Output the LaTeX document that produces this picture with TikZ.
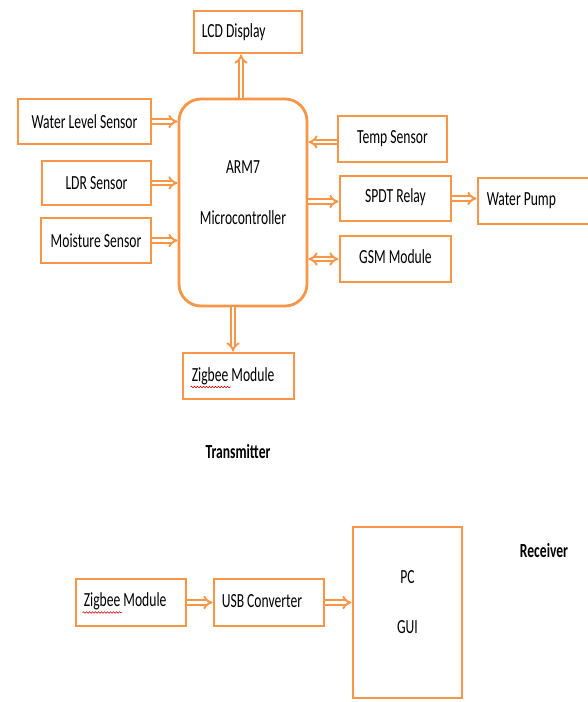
\documentclass[tikz,border=0pt]{standalone}
\usepackage{fontspec}
\setmainfont{Carlito}
\usetikzlibrary{arrows.meta,decorations.pathmorphing}
\definecolor{org}{HTML}{F79646}
\newcommand\tx[1]{\scalebox{0.68}[1]{#1}}
\tikzset{
  box/.style={draw=org, line width=2.8pt, fill=white, inner sep=0pt},
  rbox/.style={box, rounded corners=22pt},
  txt/.style={inner sep=0pt, font=\fontsize{20}{22}\selectfont, text=black},
  arr/.style={draw=org, double=white, line width=1.9pt, double distance=2.4pt, -{Implies[scale=1.35]}},
  darr/.style={draw=org, double=white, line width=1.9pt, double distance=2.4pt, {Implies[scale=1.35]}-{Implies[scale=1.35]}},
  wavy/.style={draw=red!85!black, line width=0.6pt, decorate, decoration={snake, segment length=3pt, amplitude=0.8pt}}
}
\begin{document}
\begin{tikzpicture}[x=1pt,y=-1pt]
\useasboundingbox[fill=white] (0,0) rectangle (588,702);
% boxes
\node[box, minimum width=108pt, minimum height=42pt] (lcd) at (248,32) {};
\node[box, minimum width=133pt, minimum height=45pt] (wls) at (84.5,121.5) {};
\node[box, minimum width=109pt, minimum height=44pt] (ldr) at (96.5,183) {};
\node[box, minimum width=110pt, minimum height=45pt] (moist) at (96,240.5) {};
\node[rbox, minimum width=128pt, minimum height=207pt] (mcu) at (243,202.5) {};
\node[box, minimum width=109pt, minimum height=46pt] (temp) at (392.5,139) {};
\node[box, minimum width=111pt, minimum height=45pt] (relay) at (395.5,198.5) {};
\node[box, minimum width=114pt, minimum height=46pt] (pump) at (535,201) {};
\node[box, minimum width=111pt, minimum height=46pt] (gsm) at (395.5,259) {};
\node[box, minimum width=111pt, minimum height=46pt] (zig) at (238.5,376) {};
\node[box, minimum width=110pt, minimum height=47pt] (zigr) at (131,602.5) {};
\node[box, minimum width=110pt, minimum height=47pt] (usb) at (269,602.5) {};
\node[box, minimum width=109pt, minimum height=171pt] (pc) at (407.5,612.5) {};
% texts
\node[txt, anchor=west] (tlcd) at ([xshift=9pt]lcd.west) {\tx{LCD Display}};
\node[txt] (twls) at (wls.center) {\tx{Water Level Sensor}};
\node[txt] (tldr) at (ldr.center) {\tx{LDR Sensor}};
\node[txt] (tmoist) at (moist.center) {\tx{Moisture Sensor}};
\node[txt] (tarm) at ([yshift=35pt]mcu.center) {\tx{ARM7}};
\node[txt] (tmicro) at ([yshift=-15pt]mcu.center) {\tx{Microcontroller}};
\node[txt] (ttemp) at (temp.center) {\tx{Temp Sensor}};
\node[txt] (trelay) at ([yshift=1.5pt]relay.center) {\tx{SPDT Relay}};
\node[txt, anchor=west] (tpump) at ([xshift=10pt]pump.west) {\tx{Water Pump}};
\node[txt] (tgsm) at ([yshift=2pt]gsm.center) {\tx{GSM Module}};
\node[txt, anchor=west] (tzig) at ([xshift=10pt]zig.west) {\tx{Zigbee Module}};
\node[txt, anchor=west] (tzigr) at ([xshift=9pt,yshift=1pt]zigr.west) {\tx{Zigbee Module}};
\node[txt, anchor=west] (tusb) at ([xshift=9pt,yshift=1pt]usb.west) {\tx{USB Converter}};
\node[txt] (tpc) at ([yshift=35pt]pc.center) {\tx{PC}};
\node[txt] (tgui) at ([yshift=-15pt]pc.center) {\tx{GUI}};
\node[txt, font=\fontsize{20}{22}\selectfont\bfseries] (ttx) at (238,452) {\tx{Transmitter}};
\node[txt, font=\fontsize{20}{22}\selectfont\bfseries] (trx) at (544,551) {\tx{Receiver}};
% spell-check underlines
\draw[wavy] ([xshift=-1pt,yshift=-11pt]tzig.west) -- ++(40,0);
\draw[wavy] ([xshift=-1pt,yshift=-11pt]tzigr.west) -- ++(39,0);
% connectors
\draw[arr] ([xshift=-2pt]mcu.north) -- ([xshift=-2pt]mcu.north |- lcd.south);
\draw[arr] (wls.east) -- (wls.east -| mcu.west);
\draw[arr] (ldr.east) -- (ldr.east -| mcu.west);
\draw[arr] (moist.east) -- (moist.east -| mcu.west);
\draw[arr] ([yshift=-3pt]temp.west) -- ([yshift=-3pt]temp.west -| mcu.east);
\draw[arr] ([yshift=-3pt]relay.west -| mcu.east) -- ([yshift=-3pt]relay.west);
\draw[arr] (relay.east) -- (relay.east -| pump.west);
\draw[darr] (gsm.west -| mcu.east) -- (gsm.west);
\draw[arr] ([xshift=-10pt]mcu.south) -- ([xshift=-10pt]mcu.south |- zig.north);
\draw[arr] (zigr.east) -- (usb.west);
\draw[arr] (usb.east) -- (usb.east -| pc.west);
\end{tikzpicture}
\end{document}
